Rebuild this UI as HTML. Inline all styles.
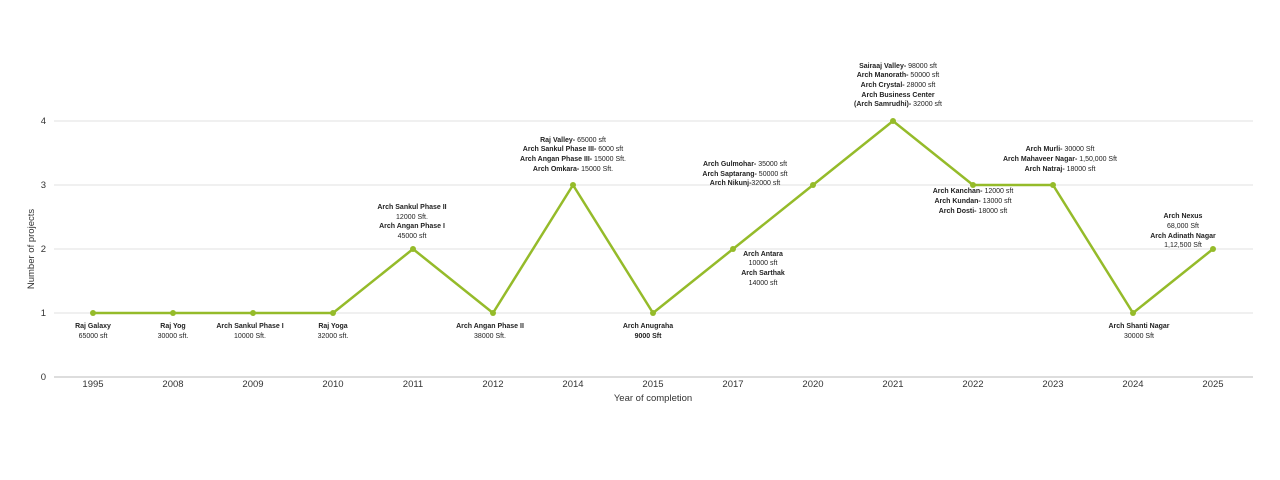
<!DOCTYPE html>
<html><head><meta charset="utf-8"><style>
body{margin:0;background:#fff}
svg{display:block;font-family:"Liberation Sans",sans-serif}
.l{font-size:7px;fill:#222;text-anchor:middle}
.b{font-weight:bold}
.t{font-size:9.5px;fill:#333}
</style></head><body>
<svg width="1280" height="480" viewBox="0 0 1280 480">
<g stroke="#e2e2e2" stroke-width="1">
<line x1="54" x2="1253" y1="121" y2="121"/><line x1="54" x2="1253" y1="185" y2="185"/>
<line x1="54" x2="1253" y1="249" y2="249"/><line x1="54" x2="1253" y1="313" y2="313"/>
</g>
<line x1="54" x2="1253" y1="377" y2="377" stroke="#bbb"/>
<g class="t" text-anchor="end">
<text x="46" y="124">4</text><text x="46" y="188">3</text><text x="46" y="252">2</text><text x="46" y="316">1</text><text x="46" y="380">0</text>
</g>
<g class="t" text-anchor="middle">
<text x="93" y="387">1995</text><text x="173" y="387">2008</text><text x="253" y="387">2009</text><text x="333" y="387">2010</text><text x="413" y="387">2011</text><text x="493" y="387">2012</text><text x="573" y="387">2014</text><text x="653" y="387">2015</text><text x="733" y="387">2017</text><text x="813" y="387">2020</text><text x="893" y="387">2021</text><text x="973" y="387">2022</text><text x="1053" y="387">2023</text><text x="1133" y="387">2024</text><text x="1213" y="387">2025</text>
<text x="653" y="401">Year of completion</text>
<text transform="translate(34,249) rotate(-90)">Number of projects</text>
</g>
<polyline fill="none" stroke="#95bb2a" stroke-width="2.5" stroke-linejoin="round" points="93,313 173,313 253,313 333,313 413,249 493,313 573,185 653,313 733,249 813,185 893,121 973,185 1053,185 1133,313 1213,249"/>
<g fill="#95bb2a">
<circle cx="93" cy="313" r="3"/><circle cx="173" cy="313" r="3"/><circle cx="253" cy="313" r="3"/><circle cx="333" cy="313" r="3"/><circle cx="413" cy="249" r="3"/><circle cx="493" cy="313" r="3"/><circle cx="573" cy="185" r="3"/><circle cx="653" cy="313" r="3"/><circle cx="733" cy="249" r="3"/><circle cx="813" cy="185" r="3"/><circle cx="893" cy="121" r="3"/><circle cx="973" cy="185" r="3"/><circle cx="1053" cy="185" r="3"/><circle cx="1133" cy="313" r="3"/><circle cx="1213" cy="249" r="3"/>
</g>
<g class="l">
<text x="93" y="328" class="b">Raj Galaxy</text><text x="93" y="338">65000 sft</text>
<text x="173" y="328" class="b">Raj Yog</text><text x="173" y="338">30000 sft.</text>
<text x="250" y="328" class="b">Arch Sankul Phase I</text><text x="250" y="338">10000 Sft.</text>
<text x="333" y="328" class="b">Raj Yoga</text><text x="333" y="338">32000 sft.</text>
<text x="412" y="209" class="b">Arch Sankul Phase II</text><text x="412" y="219">12000 Sft.</text><text x="412" y="228" class="b">Arch Angan Phase I</text><text x="412" y="238">45000 sft</text>
<text x="490" y="328" class="b">Arch Angan Phase II</text><text x="490" y="338">38000 Sft.</text>
<text x="573" y="142"><tspan class="b">Raj Valley-</tspan> 65000 sft</text>
<text x="573" y="151"><tspan class="b">Arch Sankul Phase III-</tspan> 6000 sft</text>
<text x="573" y="161"><tspan class="b">Arch Angan Phase III-</tspan> 15000 Sft.</text>
<text x="573" y="171"><tspan class="b">Arch Omkara-</tspan> 15000 Sft.</text>
<text x="648" y="328" class="b">Arch Anugraha</text><text x="648" y="338" class="b">9000 Sft</text>
<text x="763" y="256" class="b">Arch Antara</text><text x="763" y="265">10000 sft</text><text x="763" y="275" class="b">Arch Sarthak</text><text x="763" y="285">14000 sft</text>
<text x="745" y="166"><tspan class="b">Arch Gulmohar-</tspan> 35000 sft</text>
<text x="745" y="176"><tspan class="b">Arch Saptarang-</tspan> 50000 sft</text>
<text x="745" y="185"><tspan class="b">Arch Nikunj-</tspan>32000 sft</text>
<text x="898" y="68"><tspan class="b">Sairaaj Valley-</tspan> 98000 sft</text>
<text x="898" y="77"><tspan class="b">Arch Manorath-</tspan> 50000 sft</text>
<text x="898" y="87"><tspan class="b">Arch Crystal-</tspan> 28000 sft</text>
<text x="898" y="97" class="b">Arch  Business Center</text>
<text x="898" y="106"><tspan class="b">(Arch Samrudhi)-</tspan> 32000 sft</text>
<text x="973" y="193"><tspan class="b">Arch Kanchan-</tspan> 12000 sft</text>
<text x="973" y="203"><tspan class="b">Arch Kundan-</tspan> 13000 sft</text>
<text x="973" y="213"><tspan class="b">Arch Dosti-</tspan> 18000 sft</text>
<text x="1060" y="151"><tspan class="b">Arch Murli-</tspan> 30000 Sft</text>
<text x="1060" y="161"><tspan class="b">Arch Mahaveer Nagar-</tspan> 1,50,000 Sft</text>
<text x="1060" y="171"><tspan class="b">Arch Natraj-</tspan> 18000 sft</text>
<text x="1139" y="328" class="b">Arch Shanti Nagar</text><text x="1139" y="338">30000 Sft</text>
<text x="1183" y="218" class="b">Arch Nexus</text><text x="1183" y="228">68,000 Sft</text><text x="1183" y="238" class="b">Arch Adinath Nagar</text><text x="1183" y="247">1,12,500 Sft</text>
</g>
</svg>
</body></html>
